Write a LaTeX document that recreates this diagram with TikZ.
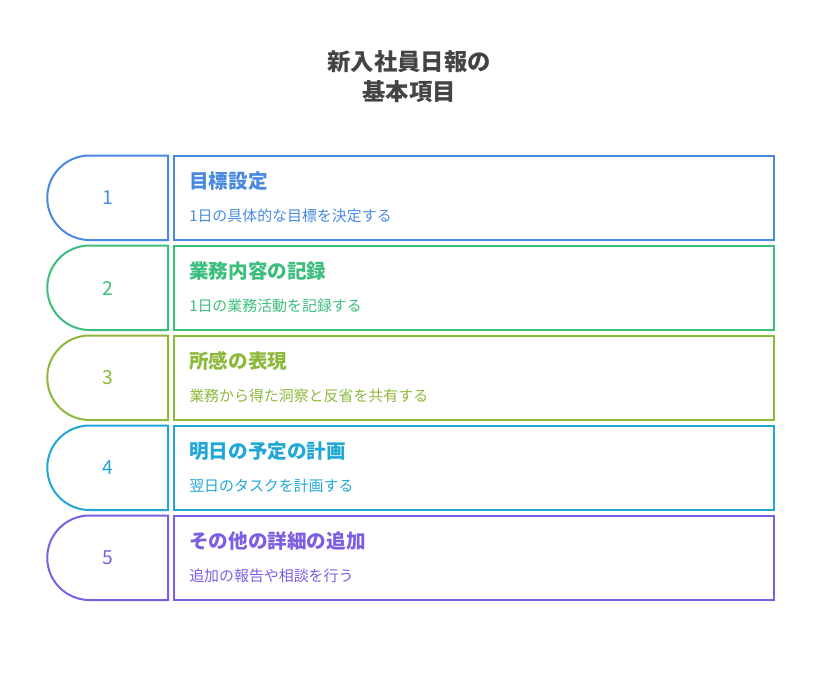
\documentclass[tikz,border=0pt]{standalone}
\usepackage{fontspec}
\setmainfont{Noto Sans CJK JP}

\definecolor{titlegray}{RGB}{68,68,68}
\definecolor{rowblue}{RGB}{74,137,224}
\definecolor{rowgreen}{RGB}{60,190,125}
\definecolor{rowolive}{RGB}{141,185,58}
\definecolor{rowcyan}{RGB}{33,167,214}
\definecolor{rowpurple}{RGB}{124,94,226}

\tikzset{
  tab/.style={line width=1.5pt},
  numtext/.style={font=\fontsize{14.5}{14.5}\selectfont},
  headtext/.style={anchor=west, inner sep=0pt, font=\fontsize{14.7}{14.7}\selectfont\bfseries},
  subtext/.style={anchor=west, inner sep=0pt, font=\fontsize{11.2}{11.2}\selectfont}
}

\begin{document}
\begin{tikzpicture}[x=0.75pt, y=-0.75pt] % one unit = one pixel of the reference

    % Canvas
    \useasboundingbox (0, 0) rectangle (822, 672);

    % Title
    \node[align=center, text=titlegray, font=\fontsize{17.5}{22.5}\selectfont\bfseries] (title) at (409, 77) {新入社員日報の\\基本項目};

    % Row 1 (blue)
    \draw[tab, rowblue] (168, 155.5) -- (89.5, 155.5) arc[start angle=-90, end angle=-270, radius=42.25] -- (168, 240) -- cycle;
    \draw[tab, rowblue] (173.5, 155.5) rectangle (774, 240);
    \node[numtext, text=rowblue] (num1) at (108, 198) {1};
    \node[headtext, text=rowblue] (head1) at (189, 181) {目標設定};
    \node[subtext, text=rowblue] (sub1) at (189, 216) {1日の具体的な目標を決定する};

    % Row 2 (green)
    \draw[tab, rowgreen] (168, 245.5) -- (89.5, 245.5) arc[start angle=-90, end angle=-270, radius=42.25] -- (168, 330) -- cycle;
    \draw[tab, rowgreen] (173.5, 245.5) rectangle (774, 330);
    \node[numtext, text=rowgreen] (num2) at (108, 288) {2};
    \node[headtext, text=rowgreen] (head2) at (189, 271) {業務内容の記録};
    \node[subtext, text=rowgreen] (sub2) at (189, 306) {1日の業務活動を記録する};

    % Row 3 (olive)
    \draw[tab, rowolive] (168, 335.5) -- (89.5, 335.5) arc[start angle=-90, end angle=-270, radius=42.25] -- (168, 420) -- cycle;
    \draw[tab, rowolive] (173.5, 335.5) rectangle (774, 420);
    \node[numtext, text=rowolive] (num3) at (108, 378) {3};
    \node[headtext, text=rowolive] (head3) at (189, 361) {所感の表現};
    \node[subtext, text=rowolive] (sub3) at (189, 396) {業務から得た洞察と反省を共有する};

    % Row 4 (cyan)
    \draw[tab, rowcyan] (168, 425.5) -- (89.5, 425.5) arc[start angle=-90, end angle=-270, radius=42.25] -- (168, 510) -- cycle;
    \draw[tab, rowcyan] (173.5, 425.5) rectangle (774, 510);
    \node[numtext, text=rowcyan] (num4) at (108, 468) {4};
    \node[headtext, text=rowcyan] (head4) at (189, 451) {明日の予定の計画};
    \node[subtext, text=rowcyan] (sub4) at (189, 486) {翌日のタスクを計画する};

    % Row 5 (purple)
    \draw[tab, rowpurple] (168, 515.5) -- (89.5, 515.5) arc[start angle=-90, end angle=-270, radius=42.25] -- (168, 600) -- cycle;
    \draw[tab, rowpurple] (173.5, 515.5) rectangle (774, 600);
    \node[numtext, text=rowpurple] (num5) at (108, 558) {5};
    \node[headtext, text=rowpurple] (head5) at (189, 541) {その他の詳細の追加};
    \node[subtext, text=rowpurple] (sub5) at (189, 576) {追加の報告や相談を行う};

\end{tikzpicture}
\end{document}
